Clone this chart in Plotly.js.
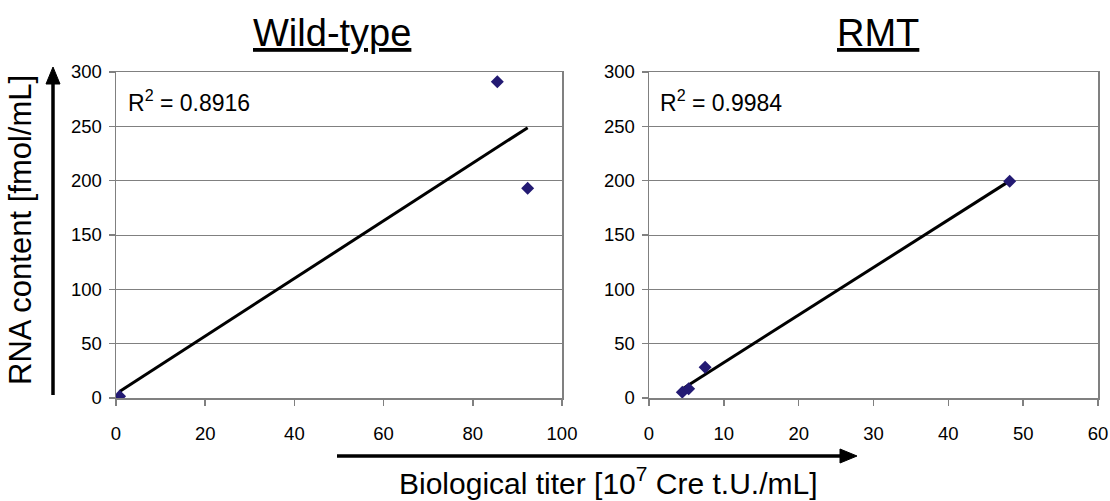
<!DOCTYPE html>
<html>
<head>
<meta charset="utf-8">
<script src="https://cdn.plot.ly/plotly-3.0.1.min.js"></script>
<style>
  html, body { margin: 0; padding: 0; background: #fff; }
  #chart { width: 1110px; height: 501px; }
</style>
</head>
<body>
<div id="chart"></div>
<script>
// ---- Data ----
const panelTitles = ['Wild-type', 'RMT'];
const r2Labels = ['0.8916', '0.9984'];

const wtX = [0.8, 85.5, 92.3];
const wtY = [1.5, 291, 193];

const rmtX = [4.45, 5.3, 7.5, 48.2];
const rmtY = [5.4, 8.6, 28.3, 199.4];

const yTitle = 'RNA content [fmol/mL]';
const xTitle = 'Biological titer [10<sup>7</sup> Cre t.U./mL]';

// ---- Linear least-squares trendline ----
function fit(xs, ys) {
  const n = xs.length;
  const mx = xs.reduce((a, b) => a + b, 0) / n;
  const my = ys.reduce((a, b) => a + b, 0) / n;
  let sxx = 0, sxy = 0;
  for (let i = 0; i < n; i++) {
    sxx += (xs[i] - mx) * (xs[i] - mx);
    sxy += (xs[i] - mx) * (ys[i] - my);
  }
  const m = sxy / sxx, b = my - m * mx;
  const x0 = Math.min(...xs), x1 = Math.max(...xs);
  return { x: [x0, x1], y: [m * x0 + b, m * x1 + b] };
}
const wtFit = fit(wtX, wtY);
const rmtFit = fit(rmtX, rmtY);

// ---- Layout helpers (pixel -> paper) ----
const W = 1110, H = 501;
const px = v => v / W;
const py = v => 1 - v / H;

const FONT = '"Liberation Sans", Arial, Helvetica, sans-serif';
const markerColor = '#231a73';
const frameColor = '#808080';

const traces = [
  { x: wtFit.x, y: wtFit.y, mode: 'lines', line: { color: '#000', width: 3 }, xaxis: 'x', yaxis: 'y', hoverinfo: 'skip' },
  { x: wtX, y: wtY, mode: 'markers', marker: { symbol: 'diamond', size: 10, color: markerColor }, xaxis: 'x', yaxis: 'y' },
  { x: rmtFit.x, y: rmtFit.y, mode: 'lines', line: { color: '#000', width: 3 }, xaxis: 'x2', yaxis: 'y2', hoverinfo: 'skip' },
  { x: rmtX, y: rmtY, mode: 'markers', marker: { symbol: 'diamond', size: 10, color: markerColor }, xaxis: 'x2', yaxis: 'y2' }
];

function xAxis(domain, range, dtick, anchor) {
  return {
    domain: domain, range: range, dtick: dtick, tick0: 0,
    anchor: anchor,
    showgrid: false, zeroline: false,
    showline: true, mirror: true, linecolor: frameColor, linewidth: 1.5,
    ticks: 'outside', ticklen: 6, tickcolor: frameColor, tickwidth: 1.5,
    ticklabelstandoff: 12,
    tickfont: { family: FONT, size: 18.5, color: '#000' },
    fixedrange: true
  };
}
function yAxis(domain, anchor) {
  return {
    domain: domain, range: [0, 300], dtick: 50, tick0: 0,
    anchor: anchor,
    showgrid: true, gridcolor: frameColor, gridwidth: 1,
    zeroline: false,
    showline: true, mirror: true, linecolor: frameColor, linewidth: 1.5,
    ticks: 'outside', ticklen: 6, tickcolor: frameColor, tickwidth: 1.5,
    ticklabelstandoff: 3,
    tickfont: { family: FONT, size: 18.5, color: '#000' },
    fixedrange: true
  };
}

const yDom = [py(398), py(72)];

const annotations = [
  // panel titles
  { text: '<u>' + panelTitles[0] + '</u>', xref: 'paper', yref: 'paper', x: px(332), y: py(33), xanchor: 'center', yanchor: 'middle', showarrow: false, font: { family: FONT, size: 38, color: '#000' } },
  { text: '<u>' + panelTitles[1] + '</u>', xref: 'paper', yref: 'paper', x: px(878), y: py(33), xanchor: 'center', yanchor: 'middle', showarrow: false, font: { family: FONT, size: 38, color: '#000' } },
  // R^2 labels
  { text: 'R<sup>2</sup> = ' + r2Labels[0], xref: 'paper', yref: 'paper', x: px(126), y: py(101), xanchor: 'left', yanchor: 'middle', showarrow: false, font: { family: FONT, size: 23, color: '#000' } },
  { text: 'R<sup>2</sup> = ' + r2Labels[1], xref: 'paper', yref: 'paper', x: px(658), y: py(101), xanchor: 'left', yanchor: 'middle', showarrow: false, font: { family: FONT, size: 23, color: '#000' } },
  // axis titles
  { text: yTitle, xref: 'paper', yref: 'paper', x: px(21), y: py(230), xanchor: 'center', yanchor: 'middle', textangle: -90, showarrow: false, font: { family: FONT, size: 31, color: '#000' } },
  { text: xTitle, xref: 'paper', yref: 'paper', x: px(608), y: py(481), xanchor: 'center', yanchor: 'middle', showarrow: false, font: { family: FONT, size: 30, color: '#000' } }
];

// Decorative axis arrows (shaft + arrowhead) in paper coordinates
function P(x, y) { return px(x) + ',' + py(y); }
const shapes = [
  { type: 'line', xref: 'paper', yref: 'paper', x0: px(53), y0: py(395), x1: px(53), y1: py(80), line: { color: '#000', width: 3.5 } },
  { type: 'path', xref: 'paper', yref: 'paper', path: 'M' + P(53, 67) + ' L' + P(46, 84) + ' L' + P(60, 84) + ' Z', fillcolor: '#000', line: { color: '#000', width: 1 } },
  { type: 'line', xref: 'paper', yref: 'paper', x0: px(337), y0: py(456), x1: px(842), y1: py(456), line: { color: '#000', width: 3.5 } },
  { type: 'path', xref: 'paper', yref: 'paper', path: 'M' + P(857, 456) + ' L' + P(840, 449) + ' L' + P(840, 463) + ' Z', fillcolor: '#000', line: { color: '#000', width: 1 } }
];

const layout = {
  width: W, height: H,
  margin: { l: 0, r: 0, t: 0, b: 0 },
  paper_bgcolor: '#fff', plot_bgcolor: '#fff',
  showlegend: false,
  font: { family: FONT, color: '#000' },
  xaxis: xAxis([px(116), px(562)], [0, 100], 20, 'y'),
  yaxis: yAxis(yDom, 'x'),
  xaxis2: xAxis([px(649), px(1098)], [0, 60], 10, 'y2'),
  yaxis2: yAxis(yDom, 'x2'),
  annotations: annotations,
  shapes: shapes
};

Plotly.newPlot('chart', traces, layout, { displayModeBar: false, staticPlot: true });
</script>
</body>
</html>
